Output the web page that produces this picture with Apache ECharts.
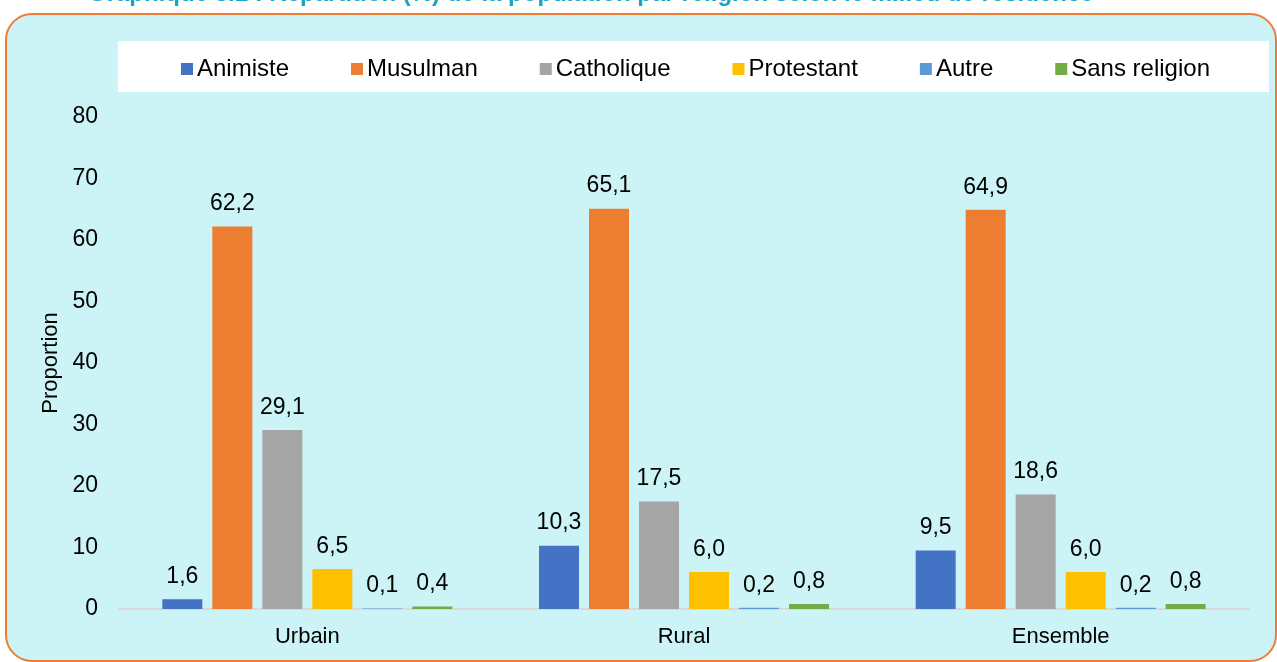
<!DOCTYPE html>
<html>
<head>
<meta charset="utf-8">
<script src="https://cdn.jsdelivr.net/npm/echarts@6/dist/echarts.min.js"></script>
<style>
html,body{margin:0;padding:0;background:#ffffff;}
#chart{width:1277px;height:662px;}
</style>
</head>
<body>
<div id="chart"></div>
<script>
const categories = ['Urbain', 'Rural', 'Ensemble'];
const seriesNames = ['Animiste', 'Musulman', 'Catholique', 'Protestant', 'Autre', 'Sans religion'];
const animiste = [1.6, 10.3, 9.5];
const musulman = [62.2, 65.1, 64.9];
const catholique = [29.1, 17.5, 18.6];
const protestant = [6.5, 6.0, 6.0];
const autre = [0.1, 0.2, 0.2];
const sansReligion = [0.4, 0.8, 0.8];
const yTicks = [0, 10, 20, 30, 40, 50, 60, 70, 80];
const colors = ['#4472C4', '#ED7D31', '#A5A5A5', '#FFC000', '#5B9BD5', '#70AD47'];
const titleText = 'Graphique 3.1 : Répartition (%) de la population par religion selon le milieu de résidence';

const allData = [animiste, musulman, catholique, protestant, autre, sansReligion];
const chart = echarts.init(document.getElementById('chart'));
const font = 'Liberation Sans, Arial, sans-serif';

chart.setOption({
  animation: false,
  backgroundColor: '#ffffff',
  graphic: [
    { type: 'rect', z: -10, shape: { x: 6, y: 14, width: 1270, height: 647, r: 26 },
      style: { fill: '#CCF4F6', stroke: '#ED7D31', lineWidth: 2 } },
    { type: 'rect', z: -9, shape: { x: 118, y: 41, width: 1151, height: 51 },
      style: { fill: '#ffffff' } },
    { type: 'text', left: 88, top: -18, z: 5,
      style: { text: titleText, fill: '#1AA5BF', font: 'bold 24px ' + font } }
  ],
  legend: {
    top: 52,
    left: 176,
    itemWidth: 12,
    itemHeight: 12,
    itemGap: 62,
    icon: 'rect',
    textStyle: { fontSize: 24, fontFamily: font, color: '#000000', padding: [0, 0, 0, -1] },
    data: seriesNames
  },
  grid: { left: 119, right: 28, top: 117, bottom: 53, containLabel: false },
  xAxis: {
    type: 'category',
    data: categories,
    axisLine: { lineStyle: { color: '#D9D9D9', width: 2 } },
    axisTick: { show: false },
    axisLabel: { fontSize: 22, fontFamily: font, color: '#000000', margin: 17 }
  },
  yAxis: {
    type: 'value',
    min: yTicks[0],
    max: yTicks[yTicks.length - 1],
    interval: 10,
    name: 'Proportion',
    nameLocation: 'middle',
    nameGap: 57,
    nameTextStyle: { fontSize: 22, fontFamily: font, color: '#000000' },
    axisLine: { show: false },
    axisTick: { show: false },
    splitLine: { show: false },
    axisLabel: { fontSize: 23, fontFamily: font, color: '#000000', margin: 21 }
  },
  series: seriesNames.map((n, i) => ({
    name: n,
    type: 'bar',
    data: allData[i],
    barWidth: 40,
    barGap: '25%',
    itemStyle: { color: colors[i] },
    label: {
      show: true,
      position: 'top',
      distance: 11,
      fontSize: 23,
      fontFamily: font,
      color: '#000000',
      formatter: p => p.value.toFixed(1).replace('.', ',')
    }
  }))
});
</script>
</body>
</html>
